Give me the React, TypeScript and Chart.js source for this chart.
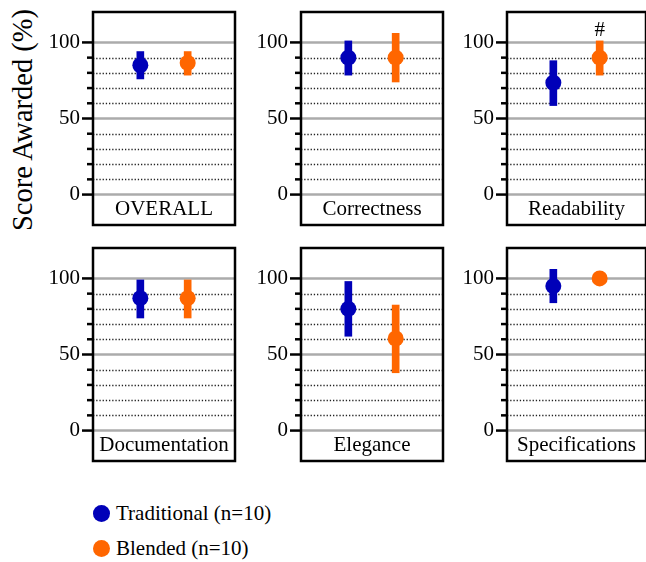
import React, { useEffect, useRef } from 'react';
import { Chart, registerables } from 'chart.js';

Chart.register(...registerables);

// ---------- data ----------
const categories = ['OVERALL', 'Correctness', 'Readability', 'Documentation', 'Elegance', 'Specifications'];
const seriesNames = ['Traditional (n=10)', 'Blended (n=10)'];
const slots = ['', 'Traditional', 'Blended', ''];

const tradMean = [85, 90, 73.5, 87, 80, 95];
const tradLow = [76, 78.5, 58.5, 74, 62, 84];
const tradHigh = [94, 101, 88, 99, 98, 106];

const blendMean = [86.5, 90, 90, 87, 60.5, 100];
const blendLow = [78.5, 74, 78.5, 74, 38, 100];
const blendHigh = [94, 106, 101, 99, 82.5, 100];

const yTickLabels = [0, 50, 100];
const majorLines = [0, 50, 100];
const minorLines = [10, 20, 30, 40, 60, 70, 80, 90];

const sigPanels = [2];
const sigSlots = [2];
const sigTexts = ['#'];
const sigValues = [108];

const yTitle = 'Score Awarded (%)';

// ---------- styles ----------
const FONT = '"Liberation Serif", "Times New Roman", serif';
const BLUE = '#0000b8';
const ORANGE = '#ff6600';

const BOX_LEFT = [93, 301, 507];
const BOX_TOP = [12, 248];
const BOX_W = [142, 142, 139];
const BOX_H = 213;
const PAD_L = 60;
const PAD_T = 30;
const PAD_R = 6;
const PAD_B = 30;

function makePlugin(idx: number) {
  return {
    id: 'panelDecor' + idx,
    beforeDatasetsDraw(chart: any) {
      const { ctx, chartArea } = chart;
      const y = chart.scales.y;
      ctx.save();
      ctx.strokeStyle = '#222';
      ctx.lineWidth = 1.3;
      ctx.setLineDash([1.3, 1.9]);
      for (const v of minorLines) {
        const py = Math.round(y.getPixelForValue(v)) + 0.5;
        ctx.beginPath();
        ctx.moveTo(chartArea.left, py);
        ctx.lineTo(chartArea.right, py);
        ctx.stroke();
      }
      ctx.setLineDash([]);
      ctx.strokeStyle = '#ababab';
      ctx.lineWidth = 2.5;
      for (const v of majorLines) {
        const py = y.getPixelForValue(v);
        ctx.beginPath();
        ctx.moveTo(chartArea.left, py);
        ctx.lineTo(chartArea.right, py);
        ctx.stroke();
      }
      ctx.restore();
    },
    afterDraw(chart: any) {
      const { ctx, chartArea } = chart;
      const y = chart.scales.y;
      const x = chart.scales.x;
      ctx.save();
      // ticks
      ctx.strokeStyle = '#000';
      ctx.lineWidth = 2.5;
      for (let v = 0; v <= 100; v += 10) {
        const py = y.getPixelForValue(v);
        const len = majorLines.includes(v) ? 11 : 6;
        ctx.beginPath();
        ctx.moveTo(chartArea.left - len, py);
        ctx.lineTo(chartArea.left, py);
        ctx.stroke();
      }
      // box
      ctx.lineWidth = 2.5;
      ctx.strokeRect(chartArea.left, chartArea.top, chartArea.right - chartArea.left, chartArea.bottom - chartArea.top);
      // category label
      ctx.fillStyle = '#000';
      ctx.font = '21px ' + FONT;
      ctx.textAlign = 'center';
      ctx.textBaseline = 'middle';
      ctx.fillText(categories[idx], (chartArea.left + chartArea.right) / 2, y.getPixelForValue(-10));
      // significance marks
      sigPanels.forEach((p, i) => {
        if (p !== idx) return;
        ctx.fillText(sigTexts[i], x.getPixelForValue(sigSlots[i]), y.getPixelForValue(sigValues[i]));
      });
      ctx.restore();
    },
  };
}

function Panel({ idx }: { idx: number }) {
  const ref = useRef<HTMLCanvasElement>(null);
  const col = idx % 3;
  const row = Math.floor(idx / 3);
  const w = PAD_L + BOX_W[col] + PAD_R;
  const h = PAD_T + BOX_H + PAD_B;

  useEffect(() => {
    const chart = new Chart(ref.current as HTMLCanvasElement, {
      type: 'bar',
      data: {
        labels: slots,
        datasets: [
          {
            type: 'line',
            data: [null, tradMean[idx], null, null],
            showLine: false,
            pointRadius: 8,
            pointHoverRadius: 8,
            pointBackgroundColor: BLUE,
            pointBorderWidth: 0,
            borderColor: BLUE,
            order: 0,
          } as any,
          {
            type: 'line',
            data: [null, null, blendMean[idx], null],
            showLine: false,
            pointRadius: 8,
            pointHoverRadius: 8,
            pointBackgroundColor: ORANGE,
            pointBorderWidth: 0,
            borderColor: ORANGE,
            order: 0,
          } as any,
          {
            type: 'bar',
            data: [null, [tradLow[idx], tradHigh[idx]], null, null],
            backgroundColor: BLUE,
            borderWidth: 0,
            barThickness: 7,
            grouped: false,
            order: 1,
          } as any,
          {
            type: 'bar',
            data: [null, null, [blendLow[idx], blendHigh[idx]], null],
            backgroundColor: ORANGE,
            borderWidth: 0,
            barThickness: 7,
            grouped: false,
            order: 1,
          } as any,
        ],
      },
      options: {
        animation: false,
        responsive: false,
        maintainAspectRatio: false,
        devicePixelRatio: 1,
        events: [],
        layout: { padding: { left: 0, top: PAD_T, right: PAD_R, bottom: PAD_B }, autoPadding: false },
        plugins: { legend: { display: false }, tooltip: { enabled: false } },
        scales: {
          x: { type: 'category', offset: false, display: false },
          y: {
            min: -20,
            max: 120,
            afterFit: (s: any) => {
              s.width = PAD_L;
            },
            grid: { display: false, drawTicks: false },
            border: { display: false },
            ticks: {
              stepSize: 10,
              autoSkip: false,
              padding: 13,
              color: '#000',
              font: { family: FONT, size: 21 },
              callback: (v: any) => (yTickLabels.includes(Number(v)) ? String(v) : ''),
            },
          },
        },
      } as any,
      plugins: [makePlugin(idx)],
    });
    return () => chart.destroy();
  }, [idx]);

  return (
    <canvas
      ref={ref}
      width={w}
      height={h}
      style={{
        position: 'absolute',
        left: BOX_LEFT[col] - PAD_L,
        top: BOX_TOP[row] - PAD_T,
        width: w,
        height: h,
      }}
    />
  );
}

export default function App() {
  const legendColors = [BLUE, ORANGE];
  const legendY = [513, 548];
  return (
    <div
      style={{
        position: 'absolute',
        left: 0,
        top: 0,
        width: 646,
        height: 562,
        overflow: 'hidden',
        background: '#fff',
        fontFamily: FONT,
        color: '#000',
      }}
    >
      <div
        style={{
          position: 'absolute',
          left: 22.5 - 140,
          top: 120 - 17,
          width: 280,
          height: 34,
          lineHeight: '34px',
          textAlign: 'center',
          fontSize: 28.5,
          transform: 'rotate(-90deg)',
          whiteSpace: 'nowrap',
        }}
      >
        {yTitle}
      </div>
      {categories.map((_, i) => (
        <Panel key={i} idx={i} />
      ))}
      {seriesNames.map((name, i) => (
        <React.Fragment key={name}>
          <div
            style={{
              position: 'absolute',
              left: 101.5 - 8.5,
              top: legendY[i] - 8.5,
              width: 17,
              height: 17,
              borderRadius: '50%',
              background: legendColors[i],
            }}
          />
          <div
            style={{
              position: 'absolute',
              left: 116,
              top: legendY[i] - 15,
              height: 30,
              lineHeight: '30px',
              fontSize: 21,
              whiteSpace: 'nowrap',
            }}
          >
            {name}
          </div>
        </React.Fragment>
      ))}
    </div>
  );
}
